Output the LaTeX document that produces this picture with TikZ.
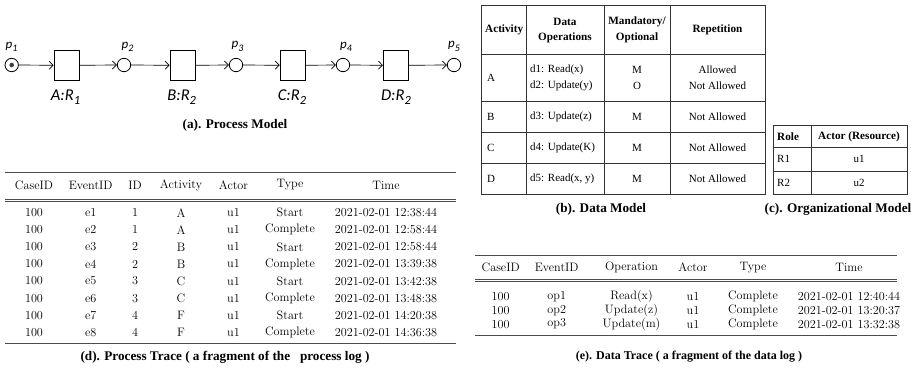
\documentclass[tikz,border=0pt]{standalone}
\usepackage{fontspec}
\newfontfamily\tms{Liberation Serif}
\newfontfamily\calfont{Carlito}
\usetikzlibrary{arrows.meta}
\tikzset{
  place/.style={circle,draw,line width=0.8pt,minimum size=13.4pt,inner sep=0pt},
  trans/.style={rectangle,draw,line width=0.8pt,minimum width=25.3pt,minimum height=29.3pt,inner sep=0pt},
  arr/.style={line width=0.7pt,-{Straight Barb[length=4pt,width=8pt,line width=0.7pt]}},
  plab/.style={inner sep=0pt,font=\calfont\itshape\fontsize{13}{15}\selectfont},
  tlab/.style={inner sep=0pt,font=\calfont\itshape\fontsize{16.5}{18}\selectfont},
  capt/.style={inner sep=0pt,font=\tms\bfseries\fontsize{13.2}{15}\selectfont},
  lm/.style={inner sep=0pt,font=\fontsize{12.2}{14}\selectfont},
  tb/.style={inner sep=0pt,font=\tms\fontsize{11}{12}\selectfont},
  tbh/.style={inner sep=0pt,font=\tms\bfseries\fontsize{11.2}{12}\selectfont},
  grid/.style={line width=0.9pt,draw=black!80},
  rulethick/.style={line width=1.1pt,draw=black!70},
  rulethin/.style={line width=0.5pt,draw=black!70},
}
\newcommand{\sub}[1]{\raisebox{-0.25em}{\fontsize{10}{12}\selectfont #1}}
\newcommand{\subb}[1]{\raisebox{-0.25em}{\fontsize{12.5}{14}\selectfont #1}}
\begin{document}
\begin{tikzpicture}[x=1pt,y=-1pt]
\useasboundingbox (0,0) rectangle (911,369);
% ---------- (a) Process model ----------
\node[place] (p1) at (11.7,65) {};
\node[circle,fill=black!75,minimum size=4.6pt,inner sep=0pt] (tok) at (p1.center) {};
\node[trans] (A) at (66.7,65.3) {};
\node[place] (p2) at (124,65) {};
\node[trans] (B) at (182.7,65.3) {};
\node[place] (p3) at (236,65) {};
\node[trans] (C) at (292.8,65.3) {};
\node[place] (p4) at (343,65) {};
\node[trans] (D) at (396,65.3) {};
\node[place] (p5) at (454,65) {};
\draw[arr] (p1) -- (A);
\draw[arr] (A) -- (p2);
\draw[arr] (p2) -- (B);
\draw[arr] (B) -- (p3);
\draw[arr] (p3) -- (C);
\draw[arr] (C) -- (p4);
\draw[arr] (p4) -- (D);
\draw[arr] (D) -- (p5);
\node[plab] (lp1) at (11.5,46.5) {p\sub{1}};
\node[plab] (lp2) at (127.5,46.5) {p\sub{2}};
\node[plab] (lp3) at (237.5,46.5) {p\sub{3}};
\node[plab] (lp4) at (346,46.5) {p\sub{4}};
\node[plab] (lp5) at (454,46.5) {p\sub{5}};
\node[tlab] (lA) at (65.5,97) {A:R\subb{1}};
\node[tlab] (lB) at (181.7,97) {B:R\subb{2}};
\node[tlab] (lC) at (292,97) {C:R\subb{2}};
\node[tlab] (lD) at (396,97) {D:R\subb{2}};
\node[capt] (capa) at (235,125) {(a). Process Model};
% ---------- (b) Data model ----------
\draw[grid] (481,5) rectangle (765,194.3);
\foreach \xx in {526,604,670} \draw[grid] (\xx,5) -- (\xx,194.3);
\foreach \yy in {54,101,132.7,163.3} \draw[grid] (481,\yy) -- (765,\yy);
\node[tbh,anchor=west] (hAct) at (485,30) {Activity};
\node[tbh] (hDO1) at (565,22) {Data};
\node[tbh] (hDO2) at (565,38) {Operations};
\node[tbh] (hMO1) at (637,22) {Mandatory/};
\node[tbh] (hMO2) at (637,38) {Optional};
\node[tbh] (hRep) at (717.5,30) {Repetition};
\node[tb,anchor=west] (rA) at (487,78) {A};
\node[tb,anchor=west] (rA1) at (530,70) {d1: Read(x)};
\node[tb,anchor=west] (rA2) at (530,86) {d2: Update(y)};
\node[tb] (rA3) at (637,70) {M};
\node[tb] (rA4) at (637,86) {O};
\node[tb] (rA5) at (717.5,70) {Allowed};
\node[tb] (rA6) at (717.5,86) {Not Allowed};
\node[tb,anchor=west] (rB) at (487,117) {B};
\node[tb,anchor=west] (rB1) at (530,117) {d3: Update(z)};
\node[tb] (rB2) at (637,117) {M};
\node[tb] (rB3) at (717.5,117) {Not Allowed};
\node[tb,anchor=west] (rC) at (487,148) {C};
\node[tb,anchor=west] (rC1) at (530,148) {d4: Update(K)};
\node[tb] (rC2) at (637,148) {M};
\node[tb] (rC3) at (717.5,148) {Not Allowed};
\node[tb,anchor=west] (rD) at (487,179) {D};
\node[tb,anchor=west] (rD1) at (530,179) {d5: Read(x, y)};
\node[tb] (rD2) at (637,179) {M};
\node[tb] (rD3) at (717.5,179) {Not Allowed};
\node[capt] (capb) at (601,209) {(b). Data Model};
% ---------- (c) Organizational model ----------
\draw[grid] (773,125) rectangle (907,194.5);
\draw[grid] (811,125) -- (811,194.5);
\draw[grid] (773,147.5) -- (907,147.5);
\draw[grid] (773,171) -- (907,171);
\node[tbh,anchor=west] (oh1) at (777,136.5) {Role};
\node[tbh] (oh2) at (859,136.5) {Actor (Resource)};
\node[tb,anchor=west] (or1) at (777,159) {R1};
\node[tb] (ou1) at (859,159) {u1};
\node[tb,anchor=west] (or2) at (777,183) {R2};
\node[tb] (ou2) at (859,183) {u2};
\node[capt] (capc) at (838,209) {(c). Organizational Model};
% ---------- (d) Process trace ----------
\draw[rulethick] (5,172.7) -- (456,172.7);
\draw[rulethin] (5,199.3) -- (456,199.3);
\draw[rulethin] (5,201.4) -- (456,201.4);
\draw[rulethick] (5,343.3) -- (456,343.3);
\node[lm] (dh1) at (34,185) {CaseID};
\node[lm] (dh2) at (90.7,185) {EventID};
\node[lm] (dh3) at (135,185) {ID};
\node[lm] (dh4) at (181,185) {Activity};
\node[lm] (dh5) at (233.5,185) {Actor};
\node[lm] (dh6) at (290,185) {Type};
\node[lm] (dh7) at (386,185) {Time};
\foreach [count=\i] \ev/\id/\act/\ty/\tm in {e1/1/A/Start/12:38:44, e2/1/A/Complete/12:58:44, e3/2/B/Start/12:58:44, e4/2/B/Complete/13:39:38, e5/3/C/Start/13:42:38, e6/3/C/Complete/13:48:38, e7/4/F/Start/14:20:38, e8/4/F/Complete/14:36:38} {
  \pgfmathsetmacro\yy{212.7+17.09*(\i-1)}
  \node[lm] (dc\i) at (34,\yy) {100};
  \node[lm] (de\i) at (90.7,\yy) {\ev};
  \node[lm] (di\i) at (135,\yy) {\id};
  \node[lm] (da\i) at (181,\yy) {\act};
  \node[lm] (du\i) at (233.5,\yy) {u1};
  \node[lm] (dt\i) at (290,\yy) {\ty};
  \node[lm] (dm\i) at (386,\yy) {2021-02-01 \tm};
}
\node[capt] (capd) at (225,357) {(d). Process Trace ( a fragment of the \ \ process log )};
% ---------- (e) Data trace ----------
\draw[rulethick] (475,255.7) -- (897,255.7);
\draw[rulethin] (475,279) -- (897,279);
\draw[rulethin] (475,281.1) -- (897,281.1);
\draw[rulethick] (475,335.5) -- (897,335.5);
\node[lm] (eh1) at (500.7,267.7) {CaseID};
\node[lm] (eh2) at (556.7,267.7) {EventID};
\node[lm] (eh3) at (631.5,267.7) {Operation};
\node[lm] (eh4) at (693,267.7) {Actor};
\node[lm] (eh5) at (753,267.7) {Type};
\node[lm] (eh6) at (849,267.7) {Time};
\foreach [count=\i] \op/\oper/\tm in {op1/Read(x)/12:40:44, op2/Update(z)/13:20:37, op3/Update(m)/13:32:38} {
  \pgfmathsetmacro\yy{296.5+13.8*(\i-1)}
  \node[lm] (ec\i) at (500.7,\yy) {100};
  \node[lm] (eo\i) at (556.7,\yy) {\op};
  \node[lm] (ep\i) at (631.5,\yy) {\oper};
  \node[lm] (eu\i) at (693,\yy) {u1};
  \node[lm] (et\i) at (753,\yy) {Complete};
  \node[lm] (em\i) at (849,\yy) {2021-02-01 \tm};
}
\node[capt,font=\tms\bfseries\fontsize{12}{14}\selectfont] (cape) at (689,357) {(e). Data Trace ( a fragment of the data log )};
\end{tikzpicture}
\end{document}
